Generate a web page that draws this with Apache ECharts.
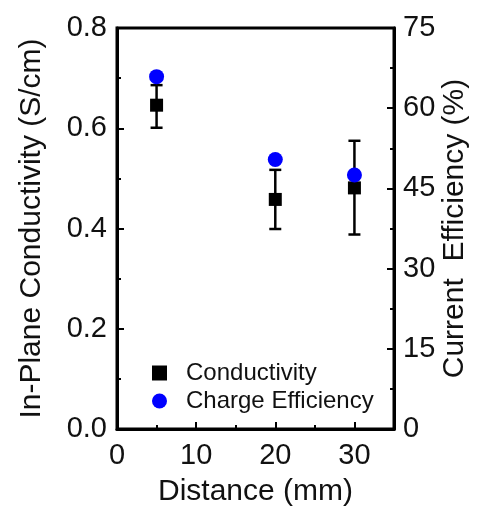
<!DOCTYPE html>
<html>
<head>
<meta charset="utf-8">
<script src="https://cdn.jsdelivr.net/npm/echarts@6/dist/echarts.min.js"></script>
<style>
html,body{margin:0;padding:0;background:#fff;}
#chart{width:478px;height:508px;}
</style>
</head>
<body>
<div id="chart"></div>
<script>
// Data
const distance = [5, 20, 30];
const conductivity = [0.646, 0.458, 0.481];
const condErrLow = [0.601, 0.399, 0.388];
const condErrHigh = [0.686, 0.517, 0.575];
const efficiency = [65.9, 50.4, 47.5];

const xTicks = [0, 10, 20, 30];
const leftTicks = [0, 0.2, 0.4, 0.6, 0.8];
const rightTicks = [0, 15, 30, 45, 60, 75];

const FONT = 'Liberation Sans, Arial, sans-serif';
const chart = echarts.init(document.getElementById('chart'), null, {renderer: 'canvas'});

const condData = distance.map((d, i) => [d, conductivity[i]]);
const effData = distance.map((d, i) => [d, efficiency[i]]);
const errData = distance.map((d, i) => [d, condErrLow[i], condErrHigh[i]]);

const axisCommon = {
  axisLine: {show: true, lineStyle: {color: '#000', width: 3}},
  axisTick: {show: true, inside: true, length: 7, lineStyle: {color: '#000', width: 2}},
  minorTick: {show: true, splitNumber: 2, length: 4, lineStyle: {color: '#000', width: 2}},
  splitLine: {show: false},
  nameMoveOverlap: false,
  nameTextStyle: {fontFamily: FONT, fontSize: 30, color: '#111'},
};

chart.setOption({
  animation: false,
  backgroundColor: '#fff',
  grid: {
    left: 117, right: 84, top: 28, bottom: 79,
    containLabel: false, outerBoundsMode: 'none',
    show: true, borderColor: '#000', borderWidth: 3
  },
  legend: {
    orient: 'vertical',
    left: 147,
    top: 356,
    itemWidth: 15,
    itemHeight: 15,
    itemGap: 4,
    textStyle: {fontFamily: FONT, fontSize: 24, color: '#111', padding: [0, 0, 0, 14], lineHeight: 24},
    data: [
      {name: 'Conductivity', icon: 'rect'},
      {name: 'Charge Efficiency', icon: 'circle'}
    ]
  },
  xAxis: Object.assign({}, axisCommon, {
    type: 'value',
    min: 0, max: 35, interval: 10,
    name: 'Distance (mm)', nameLocation: 'middle', nameGap: 48,
    axisLabel: {
      fontFamily: FONT, fontSize: 29, color: '#111', margin: 12,
      formatter: v => xTicks.includes(v) ? String(v) : ''
    }
  }),
  yAxis: [
    Object.assign({}, axisCommon, {
      type: 'value',
      min: 0, max: 0.8, interval: 0.2,
      name: 'In-Plane Conductivity (S/cm)', nameLocation: 'middle', nameGap: 70,
      axisLabel: {
        fontFamily: FONT, fontSize: 29, color: '#111', margin: 10,
        formatter: v => leftTicks.some(t => Math.abs(t - v) < 1e-9) ? v.toFixed(1) : ''
      }
    }),
    Object.assign({}, axisCommon, {
      type: 'value', position: 'right',
      min: 0, max: 75, interval: 15,
      name: 'Current  Efficiency (%)', nameLocation: 'middle', nameGap: 46,
      nameRotate: 90,
      axisLabel: {
        fontFamily: FONT, fontSize: 29, color: '#111', margin: 9,
        formatter: v => rightTicks.includes(v) ? String(v) : ''
      }
    })
  ],
  series: [
    {
      name: 'errbars',
      type: 'custom',
      xAxisIndex: 0, yAxisIndex: 0,
      data: errData,
      z: 2,
      renderItem: function (params, api) {
        const x = api.value(0);
        const lo = api.coord([x, api.value(1)]);
        const hi = api.coord([x, api.value(2)]);
        const hw = 6;
        const style = {stroke: '#000', lineWidth: 2.5};
        return {
          type: 'group',
          children: [
            {type: 'line', shape: {x1: lo[0], y1: lo[1], x2: hi[0], y2: hi[1]}, style: style},
            {type: 'line', shape: {x1: lo[0] - hw, y1: lo[1], x2: lo[0] + hw, y2: lo[1]}, style: style},
            {type: 'line', shape: {x1: hi[0] - hw, y1: hi[1], x2: hi[0] + hw, y2: hi[1]}, style: style}
          ]
        };
      }
    },
    {
      name: 'Conductivity',
      type: 'scatter',
      xAxisIndex: 0, yAxisIndex: 0,
      symbol: 'rect', symbolSize: 13,
      itemStyle: {color: '#000', opacity: 1},
      data: condData,
      z: 3
    },
    {
      name: 'Charge Efficiency',
      type: 'scatter',
      xAxisIndex: 0, yAxisIndex: 1,
      symbol: 'circle', symbolSize: 15,
      itemStyle: {color: '#0000ff', opacity: 1},
      data: effData,
      z: 4
    }
  ]
});
</script>
</body>
</html>
